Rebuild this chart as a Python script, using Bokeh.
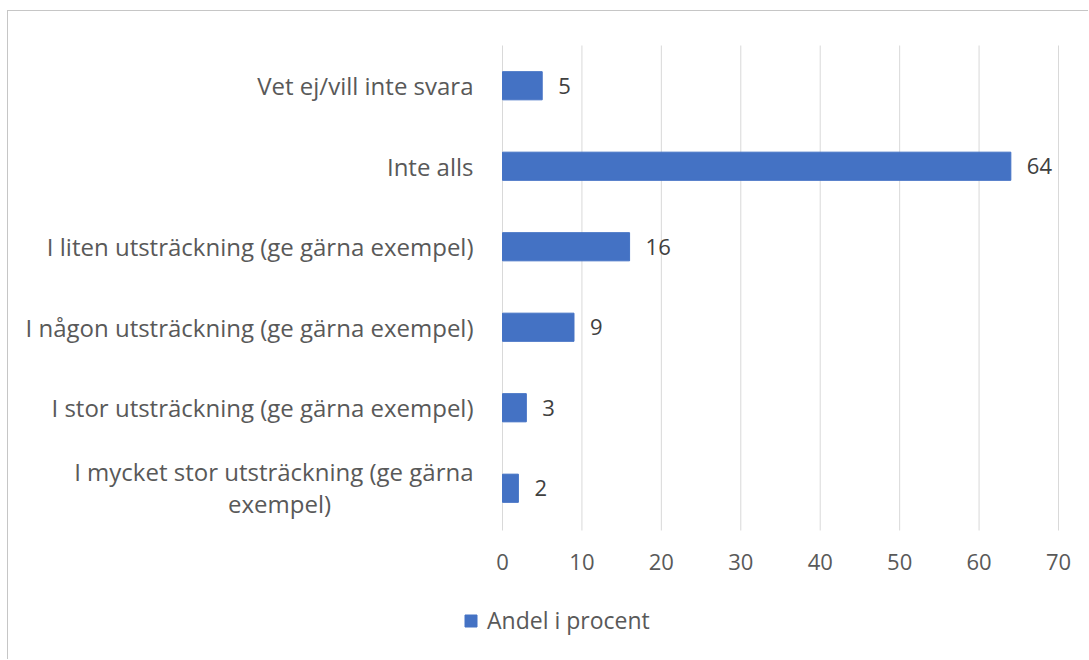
from bokeh.plotting import figure
from bokeh.models import Range1d, ColumnDataSource, Legend, LegendItem
from bokeh.core.properties import value
from bokeh.embed import file_html
from bokeh.resources import INLINE

categories = [
    "Vet ej/vill inte svara",
    "Inte alls",
    "I liten utsträckning (ge gärna exempel)",
    "I någon utsträckning (ge gärna exempel)",
    "I stor utsträckning (ge gärna exempel)",
    "I mycket stor utsträckning (ge gärna exempel)",
]
label_first = [
    "Vet ej/vill inte svara",
    "Inte alls",
    "I liten utsträckning (ge gärna exempel)",
    "I någon utsträckning (ge gärna exempel)",
    "I stor utsträckning (ge gärna exempel)",
    "I mycket stor utsträckning (ge gärna",
]
label_second = ["", "", "", "", "", "exempel)"]
values = [5, 64, 16, 9, 3, 2]
x_ticks = [0, 10, 20, 30, 40, 50, 60, 70]
series_name = "Andel i procent"

FONT = "Open Sans"
TXT = "#595959"
BAR = "#4472C4"

# layout (pixels)
W, H = 1081, 649
PX0, PX70 = 494, 1050          # canvas x of value 0 and value 70
TOP, BOT = 34, 517             # canvas y of top / bottom of category area
n = len(categories)
kx = (PX70 - PX0) / (x_ticks[-1] - x_ticks[0])
band = (BOT - TOP) / n
grid_ext = 2 / band            # gridlines run 2px below the last band

p = figure(
    width=W, height=H,
    x_range=Range1d(x_ticks[0] - PX0 / kx, x_ticks[-1] + (W - PX70) / kx),
    y_range=Range1d(-(H - BOT) / band, n + TOP / band),
    output_backend="svg", toolbar_location=None,
    min_border=0, min_border_left=0, min_border_right=0,
    min_border_top=0, min_border_bottom=0,
)
p.margin = (10, 0, 0, 7)
p.styles = {"border-left": "1px solid #c6c6c6", "border-top": "1px solid #c6c6c6"}
p.outline_line_color = None
p.background_fill_color = "white"
p.border_fill_color = "white"
p.axis.visible = False
p.grid.visible = False

ypos = [n - i - 0.5 for i in range(n)]
multi = [s != "" for s in label_second]
src = ColumnDataSource(dict(
    y=ypos, val=values, lab=[str(v) for v in values],
    first=label_first, second=label_second,
    off1=[-17 if m else 0 for m in multi],
))

# gridlines at ticks
p.segment(x0=x_ticks, y0=[-grid_ext] * len(x_ticks), x1=x_ticks, y1=[n] * len(x_ticks),
          line_color="#d9d9d9", line_width=1)

# tick labels
p.text(x=x_ticks, y=[0] * len(x_ticks), text=[str(t) for t in x_ticks],
       y_offset=33, text_align="center", text_baseline="middle",
       text_font=value(FONT), text_font_size="22px", text_color=TXT)

r = p.hbar(y="y", right="val", left=0, height=0.35, color=BAR, source=src)

# value labels
p.text(x="val", y="y", text="lab", source=src, x_offset=16,
       text_align="left", text_baseline="middle",
       text_font=value(FONT), text_font_size="22px", text_color="#404040")

# category labels
p.text(x=0, y="y", text="first", y_offset="off1", source=src, x_offset=-29,
       text_align="right", text_baseline="middle",
       text_font=value(FONT), text_font_size="24px", text_color=TXT)
p.text(x=0, y="y", text="second", y_offset=15, source=src, x_offset=-223,
       text_align="center", text_baseline="middle",
       text_font=value(FONT), text_font_size="24px", text_color=TXT)

legend = Legend(items=[LegendItem(label=series_name, renderers=[r])],
                location=(455, 24), orientation="horizontal",
                border_line_color=None, background_fill_alpha=0,
                padding=0, margin=0, glyph_width=15, glyph_height=15,
                label_standoff=9, label_text_font=FONT, label_height=15,
                label_text_font_size="23px", label_text_color=TXT)
p.add_layout(legend, "center")

open("out.html", "w").write(file_html(p, INLINE))
